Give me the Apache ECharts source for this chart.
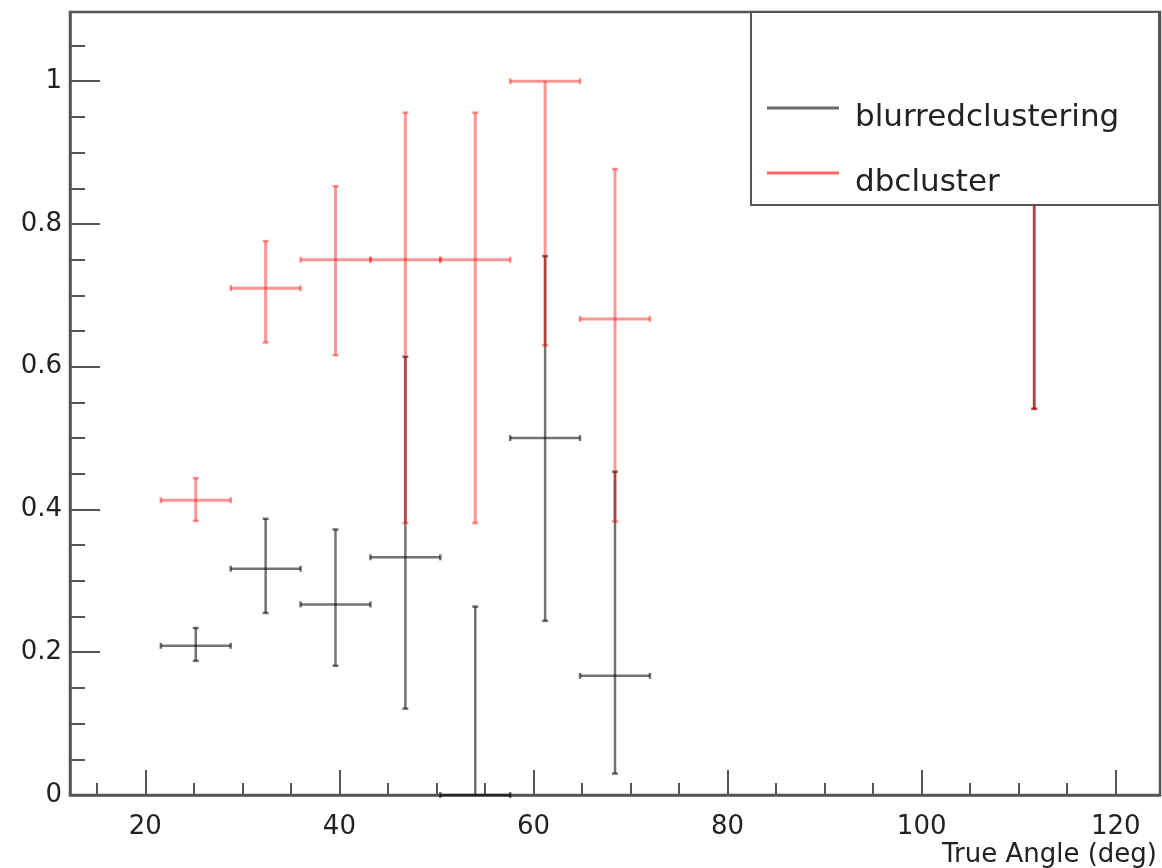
<!DOCTYPE html>
<html>
<head>
<meta charset="utf-8">
<script src="https://cdn.jsdelivr.net/npm/echarts@6/dist/echarts.min.js"></script>
<style>
html,body{margin:0;padding:0;background:#fff;}
#chart{width:1162px;height:868px;}
</style>
</head>
<body>
<div id="chart"></div>
<script>
// ---- data ----
const seriesNames = ['blurredclustering', 'dbcluster'];
const xCenters = [25.2, 32.4, 39.6, 46.8, 54.0, 61.2, 68.4, 111.6];
const xHalfWidth = 3.6;

const blurredValue = [0.209, 0.317, 0.267, 0.333, 0.0, 0.500, 0.167, 1.0];
const blurredLow   = [0.188, 0.255, 0.181, 0.121, 0.0, 0.244, 0.030, 0.541];
const blurredHigh  = [0.234, 0.387, 0.372, 0.614, 0.264, 0.755, 0.453, 1.0];

const dbValue = [0.413, 0.710, 0.750, 0.750, 0.750, 1.0, 0.667, 1.0];
const dbLow   = [0.384, 0.634, 0.616, 0.381, 0.381, 0.630, 0.383, 0.541];
const dbHigh  = [0.444, 0.776, 0.853, 0.956, 0.956, 1.0, 0.877, 1.0];

const xMajorTicks = [20, 40, 60, 80, 100, 120];
const xMinorTicks = [15, 25, 30, 35, 45, 50, 55, 65, 70, 75, 85, 90, 95, 105, 110, 115];
const yMajorTicks = [0, 0.2, 0.4, 0.6, 0.8, 1];
const yMinorTicks = [0.05, 0.1, 0.15, 0.25, 0.3, 0.35, 0.45, 0.5, 0.55, 0.65, 0.7, 0.75, 0.85, 0.9, 0.95, 1.05];
const xTitle = 'True Angle (deg)';

const xRange = [12.24, 124.56];
const yRange = [0, 1.097];

// ---- build ----
function buildData(vals, lo, hi) {
  return xCenters.map((x, i) => [x, vals[i], lo[i], hi[i], xHalfWidth]);
}

function makeRenderer(color, width) {
  return function (params, api) {
    const x = api.value(0), y = api.value(1), lo = api.value(2), hi = api.value(3), hw = api.value(4);
    const pL = api.coord([x - hw, y]);
    const pR = api.coord([x + hw, y]);
    const pT = api.coord([x, hi]);
    const pB = api.coord([x, lo]);
    const cap = 3;
    const st = { stroke: color, lineWidth: width, fill: null };
    const capSt = { stroke: color, lineWidth: 2.5, fill: null };
    const children = [
      { type: 'line', shape: { x1: pL[0], y1: pL[1], x2: pR[0], y2: pR[1] }, style: st },
      { type: 'line', shape: { x1: pB[0], y1: pB[1], x2: pT[0], y2: pT[1] }, style: st },
      { type: 'line', shape: { x1: pL[0], y1: pL[1] - cap, x2: pL[0], y2: pL[1] + cap }, style: capSt },
      { type: 'line', shape: { x1: pR[0], y1: pR[1] - cap, x2: pR[0], y2: pR[1] + cap }, style: capSt }
    ];
    if (hi !== y) children.push({ type: 'line', shape: { x1: pT[0] - cap, y1: pT[1], x2: pT[0] + cap, y2: pT[1] }, style: capSt });
    if (lo !== y) children.push({ type: 'line', shape: { x1: pB[0] - cap, y1: pB[1], x2: pB[0] + cap, y2: pB[1] }, style: capSt });
    return { type: 'group', children: children };
  };
}

const FONT = '"DejaVu Sans", sans-serif';
const blackCol = 'rgba(0,0,0,0.55)';
const redCol = 'rgba(255,0,0,0.42)';
// legend icon: a thin line near the top of its box, so the text sits a bit lower than the line
const legendIcon = 'path://M0 0H72V3H0Z M0 23H0.01V23.01H0Z';

const chart = echarts.init(document.getElementById('chart'), null, { renderer: 'canvas' });

const axisCommon = {
  type: 'value',
  splitLine: { show: false },
  axisPointer: { show: false }
};

chart.setOption({
  animation: false,
  backgroundColor: '#fff',
  grid: { left: 70, right: 2, top: 12, bottom: 73, show: true, borderColor: '#555', borderWidth: 2.5, backgroundColor: 'transparent' },
  xAxis: [
    Object.assign({}, axisCommon, {
      min: xRange[0], max: xRange[1],
      axisLine: { show: true, lineStyle: { color: '#555', width: 2.5 } },
      axisTick: { show: true, inside: true, length: 25, customValues: xMajorTicks, lineStyle: { color: '#555', width: 2 } },
      axisLabel: { show: true, customValues: xMajorTicks, margin: 19, fontSize: 26, fontFamily: FONT, color: '#222' }
    }),
    Object.assign({}, axisCommon, {
      min: xRange[0], max: xRange[1], position: 'bottom',
      axisLine: { show: false },
      axisTick: { show: true, inside: true, length: 12, customValues: xMinorTicks, lineStyle: { color: '#555', width: 2 } },
      axisLabel: { show: false }
    })
  ],
  yAxis: [
    Object.assign({}, axisCommon, {
      min: yRange[0], max: yRange[1],
      axisLine: { show: true, lineStyle: { color: '#555', width: 2.5 } },
      axisTick: { show: true, inside: true, length: 30, customValues: yMajorTicks, lineStyle: { color: '#555', width: 2 } },
      axisLabel: { show: true, customValues: yMajorTicks, margin: 8, fontSize: 26, fontFamily: FONT, color: '#222' }
    }),
    Object.assign({}, axisCommon, {
      min: yRange[0], max: yRange[1], position: 'left',
      axisLine: { show: false },
      axisTick: { show: true, inside: true, length: 15, customValues: yMinorTicks, lineStyle: { color: '#555', width: 2 } },
      axisLabel: { show: false }
    })
  ],
  legend: {
    orient: 'vertical',
    left: 767, top: 98,
    padding: 0,
    itemGap: 25,
    itemWidth: 72, itemHeight: 23,
    z: 120,
    selectedMode: false,
    textStyle: { fontSize: 31, fontFamily: FONT, color: '#222', lineHeight: 40, padding: [0, 0, 0, 11] },
    data: [
      { name: seriesNames[0], icon: legendIcon, itemStyle: { color: '#6a6a6a' } },
      { name: seriesNames[1], icon: legendIcon, itemStyle: { color: 'rgba(255,0,0,0.6)' } }
    ]
  },
  graphic: [
    { type: 'rect', z: 100, shape: { x: 751, y: 12, width: 408, height: 193 }, style: { fill: '#fff', stroke: '#555', lineWidth: 2 } },
    { type: 'text', z: 100, x: 1157, y: 855, style: { text: xTitle, fontSize: 26, fontFamily: FONT, fill: '#222', textAlign: 'right', textVerticalAlign: 'middle' } }
  ],
  series: [
    {
      name: seriesNames[0], type: 'custom', xAxisIndex: 0, yAxisIndex: 0,
      itemStyle: { color: '#6a6a6a' },
      renderItem: makeRenderer(blackCol, 2.5),
      data: buildData(blurredValue, blurredLow, blurredHigh),
      clip: false
    },
    {
      name: seriesNames[1], type: 'custom', xAxisIndex: 0, yAxisIndex: 0,
      itemStyle: { color: 'rgba(255,0,0,0.6)' },
      renderItem: makeRenderer(redCol, 3),
      data: buildData(dbValue, dbLow, dbHigh),
      clip: false
    }
  ]
});
</script>
</body>
</html>
